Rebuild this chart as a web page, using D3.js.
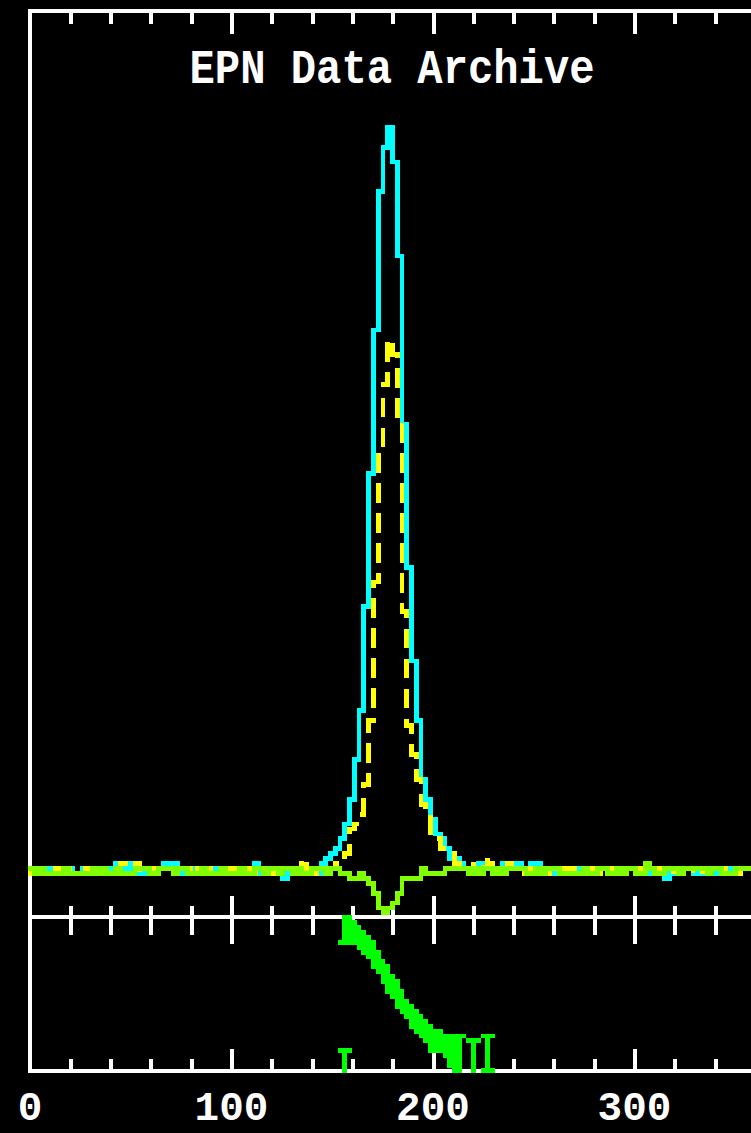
<!DOCTYPE html>
<html>
<head>
<meta charset="utf-8">
<title>EPN Data Archive</title>
<script src="https://d3js.org/d3.v7.min.js"></script>
<style>
  body { margin: 0; background: #000; }
  svg { display: block; background: #000; }
  text { font-family: "Liberation Mono", "DejaVu Sans Mono", monospace; font-weight: bold; fill: #fff; }
</style>
</head>
<body>
<script>
// ---- data (one value per channel bin, bin i sits at i * binWidth) ----
var binWidth = 2.367;

// total counts (cyan, solid)
var total = [
  0,0,0,0,0,0,0,0,0,0,
  -1,-1,0,-1,-1,0,0,0,0,1,
  -1,1,0,-1,0,-1,0,0,0,1,
  0,1,0,-1,0,0,0,0,0,0,
  -1,-1,0,-1,0,-1,0,0,1,-1,
  0,0,0,0,-2,0,0,0,0,0,
  0,-1,1,2,3,4,6,9,14,22,
  32,53,80,109,137,146,150,143,124,90,
  61,42,30,18,14,10,7,6,4,2,
  2,1,0,0,0,1,0,0,0,0,
  1,0,1,1,0,0,1,1,0,0,
  -1,0,0,0,0,0,0,0,-1,-1,
  0,0,0,-1,0,0,0,0,0,0,
  0,-1,0,-1,-2,0,-1,0,0,0,
  -1,-1,0,0,-1,-1,0,0,0,0,0,0
];

// partial counts (yellow, dashed)
var partial = [
  -1,0,0,0,0,0,0,0,0,0,
  0,0,0,0,0,0,0,0,0,0,
  1,0,0,1,-1,0,0,0,0,0,
  0,0,0,0,0,-1,0,0,0,0,
  0,0,0,0,-1,0,0,0,-1,0,
  0,0,-1,-1,0,0,-1,1,0,1,
  -1,0,-1,-1,0,1,2,3,8,9,
  11,17,30,58,85,98,107,104,91,52,
  29,23,18,13,11,7,6,4,3,3,
  1,1,1,1,0,0,2,1,0,0,
  0,1,0,0,-1,0,0,0,0,-1,
  0,-1,0,0,0,0,0,0,0,0,
  -1,-1,-1,0,0,0,0,-1,0,-1,
  -1,0,0,0,-1,-1,0,0,-1,-1,
  0,0,-1,0,0,0,0,0,-1,0,-1,-1
];

// residual (chartreuse)
var residual = [
  0,0,-1,0,-1,-1,-1,-1,0,-1,
  -1,-1,-1,-1,0,-1,0,-1,-1,0,
  -1,-1,-1,0,0,0,-1,-1,0,0,
  0,-1,0,0,-1,-1,-1,0,-1,-1,
  -1,0,-1,-1,-1,0,-1,-1,0,0,
  -1,0,0,-1,0,0,-1,0,-1,-1,
  0,0,0,-1,0,0,-1,-1,-2,-2,
  -1,-2,-3,-5,-8,-9,-8,-7,-5,-2,
  -2,-2,-2,0,-1,-1,-1,-1,0,0,
  0,0,0,-1,0,-1,0,0,-1,0,
  -1,0,0,0,0,-1,-1,0,-1,0,
  0,0,-1,-1,-1,-1,-1,0,-1,-1,
  0,0,-1,-1,0,-1,0,0,-1,-1,
  1,0,-1,-1,0,0,0,-1,0,0,
  0,0,0,-1,0,0,-1,-1,-1,0,0,0
];

// lower panel: ratio band (bin index, low, high)
var ratioBins = [65,66,67,68,69,70,71,72,73,74,75,76,77,78,79,80,81,82,83,84,85,86,87,88,89,90,91];
var ratioLo   = [26,26,26,26,25,24,23,21,20,18,16,15,13,12,11, 9, 8, 7, 6, 4, 4, 4, 3, 1, 0, 0, 7];
var ratioHi   = [27,32,32,31,30,29,28,27,25,23,22,20,19,17,15,14,13,12,11,10, 9, 9, 8, 8, 8, 8, 8];

// lower panel: isolated error bars
var errBins = [66, 93, 96];
var errLo   = [0, 0, 0];
var errHi   = [5, 7, 8];
var errCapBottom = [false, false, true];

// axis
var minorTicks = [20,40,60,80,120,140,160,180,220,240,260,280,320,340];
var majorTicks = [100,200,300];
var labelValues = [0,100,200,300];
var labelTexts  = ["0","100","200","300"];
var title = "EPN Data Archive";

// ---- drawing ----
var width = 751, height = 1133;
var svg = d3.select("body").append("svg")
  .attr("width", width).attr("height", height)
  .attr("shape-rendering", "crispEdges");

var x = d3.scaleLinear().domain([0, 400]).range([30, 836]);
var yTop = d3.scaleLinear().domain([0, 150]).range([868.5, 127.5]);
var yLow = d3.scaleLinear().domain([0, 32]).range([1073, 915]);
var colW = x(binWidth) - x(0);

// frame
var frame = svg.append("g").attr("stroke", "#fff").attr("stroke-width", 4);
frame.append("line").attr("x1", x(0) - 2).attr("x2", width).attr("y1", 11).attr("y2", 11);
frame.append("line").attr("x1", x(0) - 2).attr("x2", width).attr("y1", 917).attr("y2", 917);
frame.append("line").attr("x1", x(0) - 2).attr("x2", width).attr("y1", 1071).attr("y2", 1071);
frame.append("line").attr("x1", x(0)).attr("x2", x(0)).attr("y1", 9).attr("y2", 1073);

// ticks
function tickRow(ypos, axisFn, vals, size) {
  svg.append("g")
    .attr("transform", "translate(0," + ypos + ")")
    .call(axisFn(x).tickValues(vals).tickSize(size).tickFormat(""))
    .call(function(g) {
      g.select(".domain").remove();
      g.selectAll(".tick line").attr("stroke", "#fff").attr("stroke-width", 4);
    });
}
tickRow(11, d3.axisBottom, minorTicks, 13);
tickRow(11, d3.axisBottom, majorTicks, 23);
tickRow(906, d3.axisBottom, minorTicks, 29);
tickRow(896, d3.axisBottom, majorTicks, 48);
tickRow(1071, d3.axisTop, minorTicks, 12);
tickRow(1071, d3.axisTop, majorTicks, 22);

// spectra
var line = d3.line()
  .x(function(d, i) { return x(i * binWidth); })
  .y(function(d) { return yTop(d); })
  .curve(d3.curveStepBefore);

function spectrum(vals, color, dash) {
  svg.append("path").datum(vals)
    .attr("d", line)
    .attr("fill", "none")
    .attr("stroke", color)
    .attr("stroke-width", 4.8)
    .attr("stroke-linecap", "square")
    .attr("stroke-linejoin", "miter")
    .attr("stroke-dasharray", dash);
}
spectrum(total, "#00ffff", null);
spectrum(partial, "#ffff00", "15,15");
spectrum(residual, "#80ff00", null);

// lower panel band
var low = svg.append("g").attr("fill", "#00ff00");
low.selectAll("rect.band").data(ratioBins).enter().append("rect")
  .attr("class", "band")
  .attr("x", function(d) { return x(d * binWidth) - colW / 2; })
  .attr("width", colW)
  .attr("y", function(d, i) { return yLow(ratioHi[i]); })
  .attr("height", function(d, i) { return yLow(ratioLo[i]) - yLow(ratioHi[i]); });

// error bars with caps
errBins.forEach(function(b, i) {
  var cx = x(b * binWidth);
  low.append("rect").attr("x", cx - colW / 2).attr("width", colW)
    .attr("y", yLow(errHi[i])).attr("height", yLow(errLo[i]) - yLow(errHi[i]));
  low.append("rect").attr("x", cx - 1.5 * colW).attr("width", 3 * colW)
    .attr("y", yLow(errHi[i])).attr("height", yLow(0) - yLow(1));
  if (errCapBottom[i]) {
    low.append("rect").attr("x", cx - 1.5 * colW).attr("width", 3 * colW)
      .attr("y", yLow(errLo[i] + 1)).attr("height", yLow(0) - yLow(1));
  }
});

// labels
svg.append("g").selectAll("text").data(labelValues).enter().append("text")
  .attr("x", function(d) { return x(d); })
  .attr("y", 1120)
  .attr("text-anchor", "middle")
  .attr("font-size", 41)
  .text(function(d, i) { return labelTexts[i]; });

svg.append("text")
  .attr("x", 392).attr("y", 83)
  .attr("text-anchor", "middle")
  .attr("font-size", 48)
  .attr("textLength", 405)
  .attr("lengthAdjust", "spacingAndGlyphs")
  .text(title);
</script>
</body>
</html>
